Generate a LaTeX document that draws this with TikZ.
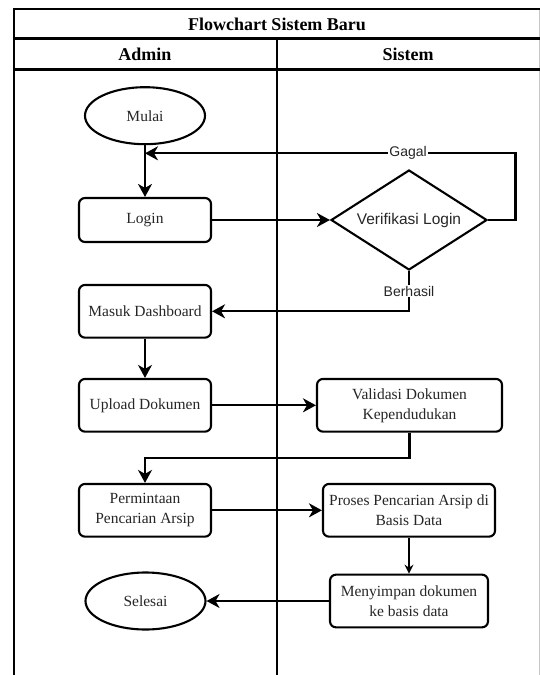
\documentclass[tikz,border=0pt]{standalone}
\usepackage{fontspec}
\setmainfont{Liberation Serif}
\setsansfont{Liberation Sans}
\usetikzlibrary{shapes.geometric,arrows.meta}
\begin{document}
\begin{tikzpicture}[x=1pt,y=-1pt,
  lane/.style={line width=2.1pt},
  boxtxt/.style={text=black!85,font=\fontsize{15.5}{20}\selectfont},
  proc/.style={boxtxt,draw=black,line width=2.1pt,rounded corners=6pt,minimum width=132pt,minimum height=52.7pt,inner sep=2pt,align=center},
  term/.style={boxtxt,draw=black,ellipse,line width=2.1pt,minimum width=120pt,minimum height=57pt,inner sep=0pt},
  dec/.style={draw=black,diamond,line width=2.1pt,minimum width=156pt,minimum height=100pt,inner sep=0pt,shape aspect=1.5,text=black!85,font=\sffamily\fontsize{15.5}{19}\selectfont},
  flow/.style={line width=2.1pt,-{Stealth[length=13pt,width=14pt,inset=4pt]}},
  thinflow/.style={line width=1.1pt,-{Stealth[length=9pt,width=9pt,inset=3pt]}},
  lbl/.style={fill=white,inner sep=1pt,text=black!85,font=\sffamily\fontsize{14}{16}\selectfont},
  hdr/.style={font=\bfseries\fontsize{18}{20}\selectfont}]
\useasboundingbox (0,0) rectangle (540,675);
% frame
\draw[gray!45,line width=1pt] (539,9) -- (539,675);
\draw[lane] (14,675) -- (14,9) -- (540,9);
\draw[lane] (14,38.5) -- (540,38.5);
\draw[lane] (14,69.5) -- (540,69.5);
\draw[lane] (277,38.5) -- (277,675);
\node[hdr] (title) at (277,24) {Flowchart Sistem Baru};
\node[hdr] (admin) at (145,54) {Admin};
\node[hdr] (sistem) at (408,54) {Sistem};
% nodes
\node[term] (mulai) at (145,115.7) {Mulai};
\node[proc,minimum height=44pt] (login) at (145,220) {Login};
\node[dec] (verif) at (409,220) {Verifikasi Login};
\node[proc] (masuk) at (145,311.3) {Masuk Dashboard};
\node[proc] (upload) at (145,405.3) {Upload Dokumen};
\node[proc,minimum width=185pt] (valid) at (409.5,405.3) {Validasi Dokumen\\Kependudukan};
\node[proc] (minta) at (145,510.3) {Permintaan\\Pencarian Arsip};
\node[proc,minimum width=172pt] (proses) at (409,510.3) {Proses Pencarian Arsip di\\Basis Data};
\node[proc,minimum width=158pt] (simpan) at (409,601) {Menyimpan dokumen\\ke basis data};
\node[term] (selesai) at (145.5,601) {Selesai};
% helper coordinates
\coordinate (gagalr) at (515.5,153.3);
\coordinate (gagalend) at (145,153.3);
\coordinate (vturn) at (409.5,457.7);
% connectors
\draw[flow] (mulai) -- (login);
\draw[flow] (login.east) -- (verif.west);
\draw[flow] (verif.east) -| (gagalr) -- node[lbl,pos=0.29] {Gagal} (gagalend);
\draw[flow] (verif.south) |- node[lbl,pos=0.25] {Berhasil} (masuk.east);
\draw[flow] (masuk) -- (upload);
\draw[flow] (upload.east) -- (valid.west);
\draw[flow] (valid.south) -- (vturn) -| (minta.north);
\draw[flow] (minta.east) -- (proses.west);
\draw[thinflow] (proses) -- (simpan);
\draw[flow] (simpan.west) -- (selesai.east);
\end{tikzpicture}
\end{document}
